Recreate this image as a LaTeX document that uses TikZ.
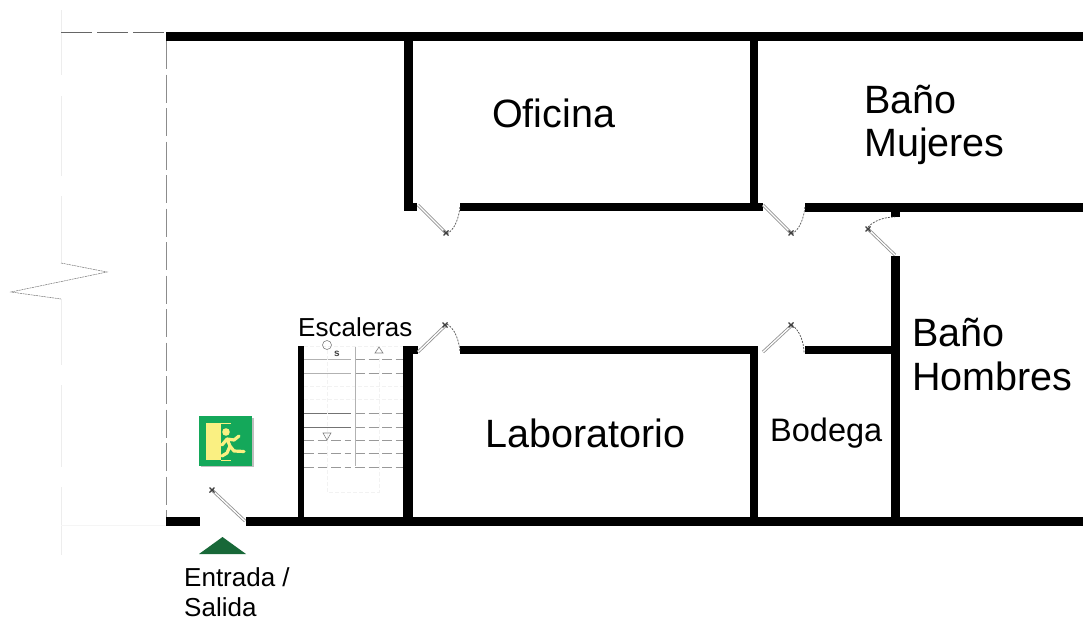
\documentclass[tikz,border=0pt]{standalone}
\usepackage{fontspec}
\setmainfont{Liberation Sans}
\definecolor{signgreen}{RGB}{20,168,90}
\definecolor{signyellow}{RGB}{250,240,130}
\definecolor{tridark}{RGB}{24,104,56}
\tikzset{
  wall/.style={fill=black,draw=none},
  leaf/.style={draw=gray!85,line width=3pt},
  leafin/.style={draw=white,line width=1.3pt},
  swing/.style={draw=black!70,line width=0.7pt,dash pattern=on 2pt off 1.2pt},
  hinge/.style={draw=black!75,line width=1.1pt},
  faint/.style={draw=black!7,line width=0.9pt},
  faintlow/.style={draw=black!4,line width=0.9pt},
  cutline/.style={draw=black!60,line width=0.9pt,dash pattern=on 31pt off 5pt},
  sidedash/.style={draw=black!45,line width=1pt,dash pattern=on 28pt off 5.5pt},
  zig/.style={draw=black!55,line width=0.5pt,dash pattern=on 2pt off 0.7pt},
  stairsolid/.style={draw=black!30,line width=0.8pt},
  stairdark/.style={draw=black!55,line width=0.8pt},
  stairdash/.style={draw=black!40,line width=0.8pt,dash pattern=on 10pt off 3.5pt},
  stairpale/.style={draw=black!5,line width=0.8pt,dash pattern=on 4pt off 2pt},
  sym/.style={draw=black!50,line width=0.6pt},
  big/.style={font=\fontsize{39.5}{39.5}\selectfont,anchor=base west,inner sep=0pt},
  mid/.style={font=\fontsize{32.5}{32.5}\selectfont,anchor=base west,inner sep=0pt},
  small/.style={font=\fontsize{26}{26}\selectfont,anchor=base west,inner sep=0pt}
}
\newcommand{\planrect}[4]{\fill[wall] (#1,#2) rectangle (#3,#4);}
\newcommand{\planleaf}[4]{%
  \draw[leaf] (#1,#2) -- (#3,#4);
  \draw[leafin] (#1,#2) -- (#3,#4);}
\newcommand{\planmark}[2]{\draw[hinge] (#1-2.5,#2+2.5) -- (#1+2.5,#2-2.5) (#1-2.5,#2-2.5) -- (#1+2.5,#2+2.5) (#1-1.5,#2) -- (#1+1.5,#2);}
\begin{document}
\begin{tikzpicture}[x=1pt,y=-1pt]
\useasboundingbox (0,0) rectangle (1083,621);
% far construction lines
\draw[faint] (61,10) -- (61,75);
\draw[faint] (61,96) -- (61,176);
\draw[faint] (61,196) -- (61,263);
\draw[faint] (61,299) -- (61,365);
\draw[faint] (61,385) -- (61,467);
\draw[faint] (61,487) -- (61,555);
\draw[faintlow] (61,525) -- (166,525);
\draw[cutline] (61,32.5) -- (166,32.5);
\draw[zig] (61,263) -- (107,272) -- (11,292) -- (61,299);
\draw[sidedash] (166,41) -- (166,517);
% walls
\planrect{166}{32}{1083}{41}
\planrect{404}{41}{413}{211}
\planrect{404}{203}{417}{211}
\planrect{460}{203}{758}{211}
\planrect{750}{41}{758}{211}
\planrect{750}{203}{763}{211}
\planrect{805}{203}{1083}{212}
\planrect{891}{212}{900}{217}
\planrect{891}{256}{900}{525}
\planrect{298}{346}{304}{517}
\planrect{403}{346}{413}{517}
\planrect{403}{346}{418}{354}
\planrect{460}{346}{758}{354}
\planrect{750}{346}{758}{517}
\planrect{805}{346}{891}{354}
\planrect{166}{517}{200}{526}
\planrect{246}{517}{1083}{526}
% doors
\planleaf{418}{205}{446}{233}
\planmark{446}{233}
\draw[swing] (447,234) .. controls (455,229) and (459,218) .. (460,206);
\planleaf{763}{205}{791}{233}
\planmark{791}{233}
\draw[swing] (792,234) .. controls (800,229) and (804,218) .. (805,206);
\planleaf{895}{255}{868}{229}
\planmark{868}{229}
\draw[swing] (868,227) .. controls (875,220) and (885,217) .. (895,217);
\planleaf{418}{352}{446}{325}
\planmark{445}{325}
\draw[swing] (447,324) .. controls (455,329) and (459,340) .. (460,352);
\planleaf{763}{352}{791}{326}
\planmark{791}{325}
\draw[swing] (792,325) .. controls (799,330) and (804,341) .. (804,353);
\planleaf{245}{521}{212}{490}
\planmark{212}{490}
% stairs
\foreach \yy in {359,373} \draw[stairsolid] (304,\yy) -- (351,\yy);
\foreach \yy in {413,427} \draw[stairdark] (304,\yy) -- (351,\yy);
\foreach \yy in {359,373,413,427,440,453,467} \draw[stairdash] (355,\yy) -- (403,\yy);
\foreach \yy in {440,453,467} \draw[stairdash] (304,\yy) -- (351,\yy);
\foreach \yy in {386,399} \draw[stairpale] (304,\yy) -- (403,\yy);
\draw[stairsolid] (355,346) -- (355,466);
\draw[stairpale] (304,346) -- (403,346);
\draw[stairpale] (327,350) -- (327,492) -- (379,492) -- (379,356);
\draw[sym] (327,345) circle (4.5);
\draw[sym] (375,353) -- (383,353) -- (379,347) -- cycle;
\draw[sym] (323,433) -- (331,433) -- (327,440) -- cycle;
\node[anchor=base,inner sep=0pt,font=\bfseries\fontsize{10}{10}\selectfont,text=black!75] (sLabel) at (337,356) {s};
% exit sign
\fill[black!25] (200.5,417.5) rectangle (253.5,467);
\fill[signgreen] (199,416) rectangle (252,466);
\fill[signyellow] (206,423) rectangle (221,460);
\draw[signyellow,line width=0.8pt] (221,423) -- (231,423) (221,460) -- (231,460);
\fill[signyellow] (226,432) circle (3.8);
\draw[signyellow,line width=3.2pt,line cap=round,line join=round]
  (227,439) -- (230,446) -- (234,451) -- (244,451.5)
  (230,446) -- (227,453) -- (222,456)
  (222,445) -- (227,439) -- (234,440) -- (239,436);
% entrance marker
\fill[tridark] (199,554) -- (246,554) -- (222.5,537) -- cycle;
% labels
\node[big] (oficina) at (492,127) {Oficina};
\node[big] (mujeresA) at (864,113) {Baño};
\node[big] (mujeresB) at (864,156) {Mujeres};
\node[big] (hombresA) at (912,346) {Baño};
\node[big] (hombresB) at (912,390) {Hombres};
\node[big] (laboratorio) at (485,447) {Laboratorio};
\node[mid] (bodega) at (770,441) {Bodega};
\node[small] (escaleras) at (298,336) {Escaleras};
\node[small] (entrada) at (184,586) {Entrada /};
\node[small] (salida) at (184,616) {Salida};
\end{tikzpicture}
\end{document}
